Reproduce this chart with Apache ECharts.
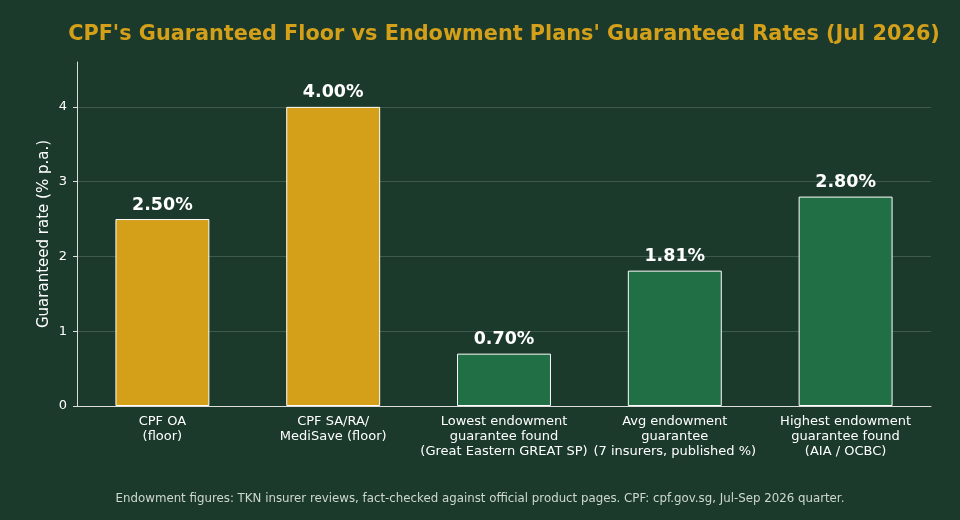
<!DOCTYPE html>
<html lang="en">
<head>
<meta charset="UTF-8">
<title>CPF vs Endowment</title>
<script src="https://cdn.jsdelivr.net/npm/echarts@6/dist/echarts.min.js"></script>
<style>
  html, body { margin: 0; padding: 0; background: #1b3a2b; }
  #main { width: 960px; height: 520px; }
</style>
</head>
<body>
<div id="main"></div>
<script>
// data
var categories = [
    'CPF OA\n(floor)',
    'CPF SA/RA/\nMediSave (floor)',
    'Lowest endowment\nguarantee found\n(Great Eastern GREAT SP)',
    'Avg endowment\nguarantee\n(7 insurers, published %)',
    'Highest endowment\nguarantee found\n(AIA / OCBC)'
];
var rates = [2.50, 4.00, 0.70, 1.81, 2.80];
var isCpf = [true, true, false, false, false];
var yTicks = [0, 1, 2, 3, 4];

var GOLD = '#d4a01a';
var GREEN = '#216f44';
var FONT = 'DejaVu Sans';

var chart = echarts.init(document.getElementById('main'));

var option = {
    backgroundColor: '#1b3a2b',
    animation: false,
    textStyle: { fontFamily: FONT },
    title: {
        text: "CPF's Guaranteed Floor vs Endowment Plans' Guaranteed Rates (Jul 2026)",
        left: 499,
        textAlign: 'center',
        top: 19,
        textStyle: { color: GOLD, fontSize: 20.8, fontWeight: 'bold', fontFamily: FONT }
    },
    grid: { left: 77, right: 29, top: 62, bottom: 114 },
    xAxis: {
        type: 'category',
        data: categories,
        axisLine: { lineStyle: { color: '#dddddd', width: 1 } },
        axisTick: { alignWithLabel: true, length: 4, lineStyle: { color: '#dddddd' } },
        axisLabel: { color: '#ffffff', fontSize: 13, lineHeight: 15, margin: 8, interval: 0 }
    },
    yAxis: {
        type: 'value',
        min: 0,
        max: 4.6,
        interval: 1,
        name: 'Guaranteed rate (% p.a.)',
        nameLocation: 'middle',
        nameGap: 25,
        nameMoveOverlap: false,
        nameTextStyle: { color: '#ffffff', fontSize: 15, fontFamily: FONT },
        axisLine: { show: true, lineStyle: { color: '#dddddd', width: 1 } },
        axisTick: { show: true, length: 4, customValues: yTicks, lineStyle: { color: '#dddddd' } },
        axisLabel: { color: '#ffffff', fontSize: 13, margin: 10, customValues: yTicks },
        splitLine: { customValues: yTicks, lineStyle: { color: 'rgba(255,255,255,0.16)', width: 1 } }
    },
    series: [{
        type: 'bar',
        barWidth: '55%',
        data: rates.map(function (v, i) {
            return {
                value: v,
                itemStyle: { color: isCpf[i] ? GOLD : GREEN, borderColor: '#ffffff', borderWidth: 1 }
            };
        }),
        label: {
            show: true,
            position: 'top',
            distance: 5,
            color: '#ffffff',
            fontSize: 17.5,
            fontWeight: 'bold',
            formatter: function (p) { return p.value.toFixed(2) + '%'; }
        }
    }],
    graphic: [{
        type: 'text',
        left: 'center',
        top: 493,
        style: {
            text: 'Endowment figures: TKN insurer reviews, fact-checked against official product pages. CPF: cpf.gov.sg, Jul-Sep 2026 quarter.',
            fill: '#cfd8cf',
            font: '11.8px "DejaVu Sans"'
        }
    }]
};
chart.setOption(option);
</script>
</body>
</html>
